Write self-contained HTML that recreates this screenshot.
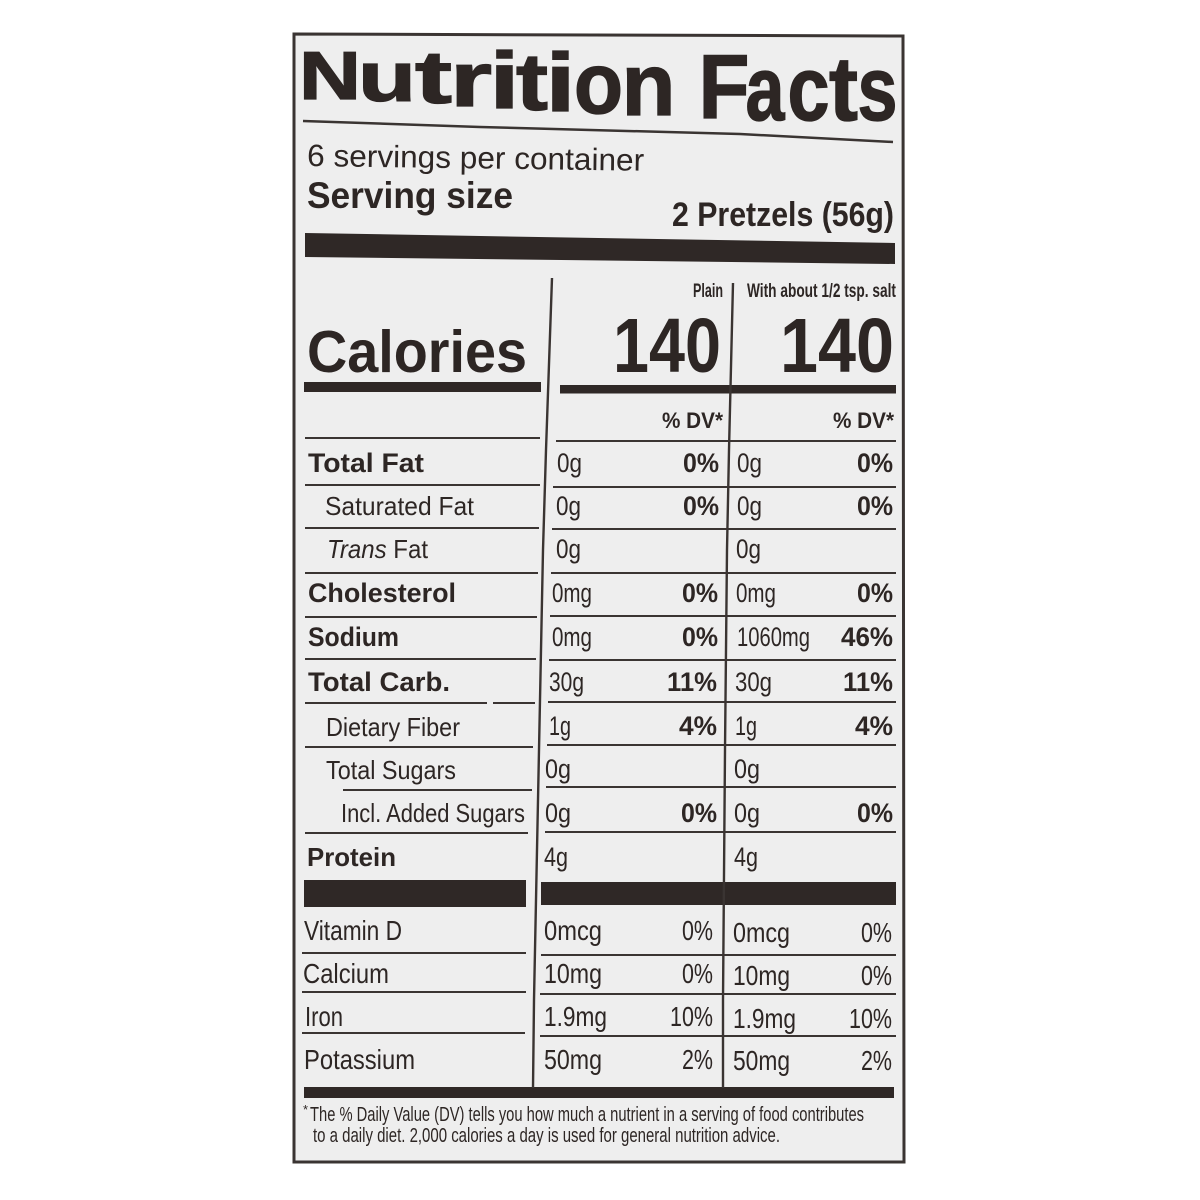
<!DOCTYPE html>
<html><head><meta charset="utf-8"><style>
html,body{margin:0;padding:0;background:#fff}
svg{display:block}
text{font-family:"Liberation Sans",Arial,sans-serif}
</style></head><body>
<svg width="1200" height="1200" viewBox="0 0 1200 1200" xmlns="http://www.w3.org/2000/svg">
<rect width="1200" height="1200" fill="#ffffff"/>
<polygon points="294,34 903,36 904,1162 294,1162" fill="#eeeeee" stroke="#3a3432" stroke-width="3"/>

<!-- Title letters -->
<g fill="#2d2624" stroke="#2d2624" stroke-width="1.3" font-weight="bold">
<text x="299" y="99" font-size="68" textLength="62" lengthAdjust="spacingAndGlyphs">N</text>
<text x="358" y="101" font-size="70" textLength="58" lengthAdjust="spacingAndGlyphs">u</text>
<text x="415" y="103" font-size="74" textLength="37" lengthAdjust="spacingAndGlyphs">t</text>
<text x="450" y="106" font-size="77" textLength="42" lengthAdjust="spacingAndGlyphs">r</text>
<text x="489.5" y="108" font-size="80" textLength="30" lengthAdjust="spacingAndGlyphs">i</text>
<text x="516" y="110" font-size="81" textLength="32" lengthAdjust="spacingAndGlyphs">t</text>
<text x="545.5" y="111" font-size="83" textLength="30" lengthAdjust="spacingAndGlyphs">i</text>
<text x="574" y="113" font-size="86" textLength="49" lengthAdjust="spacingAndGlyphs">o</text>
<text x="621.5" y="115" font-size="88" textLength="54" lengthAdjust="spacingAndGlyphs">n</text>
<text x="698.5" y="118" font-size="91" textLength="51" lengthAdjust="spacingAndGlyphs">F</text>
<text x="745.5" y="120" font-size="91" textLength="39" lengthAdjust="spacingAndGlyphs">a</text>
<text x="787.5" y="120" font-size="91" textLength="42" lengthAdjust="spacingAndGlyphs">c</text>
<text x="829" y="120" font-size="91" textLength="29" lengthAdjust="spacingAndGlyphs">t</text>
<text x="857.5" y="120" font-size="91" textLength="40" lengthAdjust="spacingAndGlyphs">s</text>
</g>

<g stroke="#3a3432" fill="none">
<path d="M303,121 L480,127 L740,134 L893,142" stroke-width="2.5"/>
</g>

<g fill="#2d2624">
<text x="307" y="166" font-size="31" textLength="337" lengthAdjust="spacingAndGlyphs" transform="rotate(0.8 307 166)">6 servings per container</text>
<text x="307" y="208" font-size="37" font-weight="bold" textLength="206" lengthAdjust="spacingAndGlyphs">Serving size</text>
<text x="672" y="226" font-size="34" font-weight="bold" textLength="222" lengthAdjust="spacingAndGlyphs">2 Pretzels (56g)</text>
</g>

<!-- Bars -->
<g fill="#2f2826">
<polygon points="305,233 895,243 895,264 305,257"/>
<rect x="304" y="382" width="237" height="10"/>
<rect x="560" y="385" width="336" height="8.5"/>
<rect x="304" y="880" width="222" height="27"/>
<rect x="541" y="882" width="355" height="23"/>
<rect x="304" y="1087" width="590" height="11"/>
</g>

<!-- Dividers -->
<g stroke="#3a3432" fill="none" stroke-width="2.4">
<path d="M552,278 L546,450 L543,550 L539,750 L534,1000 L533,1088"/>
<path d="M733,283 L729,450 L727,550 L725,750 L723,1000 L723,1088"/>
</g>

<!-- Row lines -->
<g stroke="#3a3432" stroke-width="2">
<line x1="305" y1="438" x2="540" y2="438"/><line x1="556" y1="441" x2="896" y2="441"/>
<line x1="305" y1="485" x2="540" y2="485"/><line x1="553" y1="487" x2="896" y2="487"/>
<line x1="305" y1="528" x2="539" y2="528"/><line x1="552" y1="529" x2="896" y2="529"/>
<line x1="305" y1="573" x2="538" y2="573"/><line x1="551" y1="573" x2="896" y2="573"/>
<line x1="305" y1="617" x2="537" y2="617"/><line x1="550" y1="616" x2="896" y2="616"/>
<line x1="305" y1="659" x2="536" y2="659"/><line x1="549" y1="660" x2="896" y2="660"/>
<line x1="305" y1="703" x2="487" y2="703"/><line x1="493" y1="703" x2="535" y2="703"/><line x1="548" y1="702" x2="896" y2="702"/>
<line x1="305" y1="747" x2="533" y2="747"/><line x1="547" y1="745" x2="896" y2="745"/>
<line x1="343" y1="790" x2="532" y2="790"/><line x1="546" y1="787" x2="896" y2="787"/>
<line x1="305" y1="833" x2="528" y2="833"/><line x1="545" y1="832" x2="896" y2="832"/>
<line x1="302" y1="953" x2="526" y2="953"/><line x1="541" y1="955" x2="896" y2="955"/>
<line x1="302" y1="992" x2="526" y2="992"/><line x1="540" y1="994" x2="896" y2="994"/>
<line x1="302" y1="1033" x2="525" y2="1033"/><line x1="540" y1="1036" x2="896" y2="1036"/>
</g>

<!-- Column headers -->
<g fill="#2d2624" font-weight="bold">
<text x="693" y="297" font-size="19" textLength="30" lengthAdjust="spacingAndGlyphs">Plain</text>
<text x="747" y="297" font-size="19" textLength="149" lengthAdjust="spacingAndGlyphs">With about 1/2 tsp. salt</text>
<text x="307" y="372" font-size="59" textLength="220" lengthAdjust="spacingAndGlyphs">Calories</text>
<text x="613" y="372" font-size="77" textLength="108" lengthAdjust="spacingAndGlyphs">140</text>
<text x="780" y="372" font-size="77" textLength="114" lengthAdjust="spacingAndGlyphs">140</text>
<text x="662" y="428" font-size="22" textLength="61" lengthAdjust="spacingAndGlyphs">% DV*</text>
<text x="833" y="428" font-size="22" textLength="61" lengthAdjust="spacingAndGlyphs">% DV*</text>
</g>

<!-- Row labels -->
<g fill="#2d2624">
<text x="308" y="472" font-size="27" font-weight="bold" textLength="116" lengthAdjust="spacingAndGlyphs">Total Fat</text>
<text x="325" y="515" font-size="26" textLength="149" lengthAdjust="spacingAndGlyphs">Saturated Fat</text>
<text x="327" y="558" font-size="26" textLength="101" lengthAdjust="spacingAndGlyphs"><tspan font-style="italic">Trans</tspan> Fat</text>
<text x="308" y="602" font-size="27" font-weight="bold" textLength="148" lengthAdjust="spacingAndGlyphs">Cholesterol</text>
<text x="308" y="646" font-size="27" font-weight="bold" textLength="91" lengthAdjust="spacingAndGlyphs">Sodium</text>
<text x="308" y="691" font-size="27" font-weight="bold" textLength="142" lengthAdjust="spacingAndGlyphs">Total Carb.</text>
<text x="326" y="736" font-size="26" textLength="134" lengthAdjust="spacingAndGlyphs">Dietary Fiber</text>
<text x="326" y="779" font-size="26" textLength="130" lengthAdjust="spacingAndGlyphs">Total Sugars</text>
<text x="341" y="822" font-size="26" textLength="184" lengthAdjust="spacingAndGlyphs">Incl. Added Sugars</text>
<text x="307" y="866" font-size="26" font-weight="bold" textLength="89" lengthAdjust="spacingAndGlyphs">Protein</text>
<text x="304" y="940" font-size="28" textLength="98" lengthAdjust="spacingAndGlyphs">Vitamin D</text>
<text x="303" y="983" font-size="28" textLength="86" lengthAdjust="spacingAndGlyphs">Calcium</text>
<text x="305" y="1026" font-size="28" textLength="38" lengthAdjust="spacingAndGlyphs">Iron</text>
<text x="304" y="1069" font-size="28" textLength="111" lengthAdjust="spacingAndGlyphs">Potassium</text>
</g>

<!-- Values -->
<g fill="#2d2624" font-size="27">
<text x="557" y="472" textLength="25" lengthAdjust="spacingAndGlyphs">0g</text>
<text x="683" y="472" font-weight="bold" textLength="36" lengthAdjust="spacingAndGlyphs">0%</text>
<text x="737" y="472" textLength="25" lengthAdjust="spacingAndGlyphs">0g</text>
<text x="857" y="472" font-weight="bold" textLength="36" lengthAdjust="spacingAndGlyphs">0%</text>

<text x="556" y="515" textLength="25" lengthAdjust="spacingAndGlyphs">0g</text>
<text x="683" y="515" font-weight="bold" textLength="36" lengthAdjust="spacingAndGlyphs">0%</text>
<text x="737" y="515" textLength="25" lengthAdjust="spacingAndGlyphs">0g</text>
<text x="857" y="515" font-weight="bold" textLength="36" lengthAdjust="spacingAndGlyphs">0%</text>

<text x="556" y="558" textLength="25" lengthAdjust="spacingAndGlyphs">0g</text>
<text x="736" y="558" textLength="25" lengthAdjust="spacingAndGlyphs">0g</text>

<text x="552" y="602" textLength="40" lengthAdjust="spacingAndGlyphs">0mg</text>
<text x="682" y="602" font-weight="bold" textLength="36" lengthAdjust="spacingAndGlyphs">0%</text>
<text x="736" y="602" textLength="40" lengthAdjust="spacingAndGlyphs">0mg</text>
<text x="857" y="602" font-weight="bold" textLength="36" lengthAdjust="spacingAndGlyphs">0%</text>

<text x="552" y="646" textLength="40" lengthAdjust="spacingAndGlyphs">0mg</text>
<text x="682" y="646" font-weight="bold" textLength="36" lengthAdjust="spacingAndGlyphs">0%</text>
<text x="737" y="646" textLength="73" lengthAdjust="spacingAndGlyphs">1060mg</text>
<text x="841" y="646" font-weight="bold" textLength="52" lengthAdjust="spacingAndGlyphs">46%</text>

<text x="549" y="691" textLength="35" lengthAdjust="spacingAndGlyphs">30g</text>
<text x="667" y="691" font-weight="bold" textLength="50" lengthAdjust="spacingAndGlyphs">11%</text>
<text x="735" y="691" textLength="37" lengthAdjust="spacingAndGlyphs">30g</text>
<text x="843" y="691" font-weight="bold" textLength="50" lengthAdjust="spacingAndGlyphs">11%</text>

<text x="549" y="735" textLength="22" lengthAdjust="spacingAndGlyphs">1g</text>
<text x="679" y="735" font-weight="bold" textLength="38" lengthAdjust="spacingAndGlyphs">4%</text>
<text x="735" y="735" textLength="22" lengthAdjust="spacingAndGlyphs">1g</text>
<text x="855" y="735" font-weight="bold" textLength="38" lengthAdjust="spacingAndGlyphs">4%</text>

<text x="545" y="778" textLength="26" lengthAdjust="spacingAndGlyphs">0g</text>
<text x="734" y="778" textLength="26" lengthAdjust="spacingAndGlyphs">0g</text>

<text x="545" y="822" textLength="26" lengthAdjust="spacingAndGlyphs">0g</text>
<text x="681" y="822" font-weight="bold" textLength="36" lengthAdjust="spacingAndGlyphs">0%</text>
<text x="734" y="822" textLength="26" lengthAdjust="spacingAndGlyphs">0g</text>
<text x="857" y="822" font-weight="bold" textLength="36" lengthAdjust="spacingAndGlyphs">0%</text>

<text x="544" y="866" textLength="24" lengthAdjust="spacingAndGlyphs">4g</text>
<text x="734" y="866" textLength="24" lengthAdjust="spacingAndGlyphs">4g</text>
</g>

<g fill="#2d2624" font-size="28">
<text x="544" y="940" textLength="58" lengthAdjust="spacingAndGlyphs">0mcg</text>
<text x="682" y="940" textLength="31" lengthAdjust="spacingAndGlyphs">0%</text>
<text x="733" y="942" textLength="57" lengthAdjust="spacingAndGlyphs">0mcg</text>
<text x="861" y="942" textLength="31" lengthAdjust="spacingAndGlyphs">0%</text>

<text x="544" y="983" textLength="58" lengthAdjust="spacingAndGlyphs">10mg</text>
<text x="682" y="983" textLength="31" lengthAdjust="spacingAndGlyphs">0%</text>
<text x="733" y="985" textLength="57" lengthAdjust="spacingAndGlyphs">10mg</text>
<text x="861" y="985" textLength="31" lengthAdjust="spacingAndGlyphs">0%</text>

<text x="544" y="1026" textLength="63" lengthAdjust="spacingAndGlyphs">1.9mg</text>
<text x="670" y="1026" textLength="43" lengthAdjust="spacingAndGlyphs">10%</text>
<text x="733" y="1028" textLength="63" lengthAdjust="spacingAndGlyphs">1.9mg</text>
<text x="849" y="1028" textLength="43" lengthAdjust="spacingAndGlyphs">10%</text>

<text x="544" y="1069" textLength="58" lengthAdjust="spacingAndGlyphs">50mg</text>
<text x="682" y="1069" textLength="31" lengthAdjust="spacingAndGlyphs">2%</text>
<text x="733" y="1070" textLength="57" lengthAdjust="spacingAndGlyphs">50mg</text>
<text x="861" y="1070" textLength="31" lengthAdjust="spacingAndGlyphs">2%</text>
</g>

<!-- Footnote -->
<g fill="#2d2624">
<text x="303" y="1114" font-size="13">*</text>
<text x="310" y="1121" font-size="20" textLength="554" lengthAdjust="spacingAndGlyphs">The % Daily Value (DV) tells you how much a nutrient in a serving of food contributes</text>
<text x="313" y="1142" font-size="20" textLength="467" lengthAdjust="spacingAndGlyphs">to a daily diet. 2,000 calories a day is used for general nutrition advice.</text>
</g>
</svg>
</body></html>
